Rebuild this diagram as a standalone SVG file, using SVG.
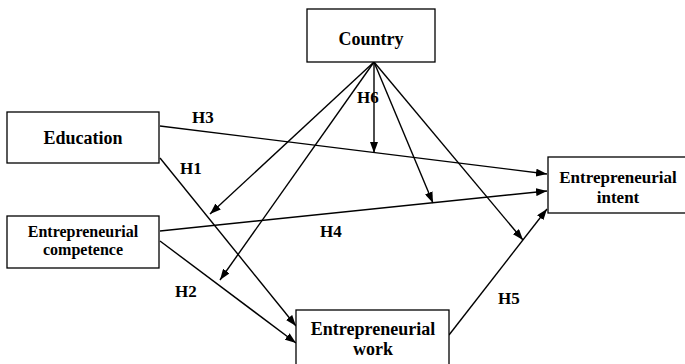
<svg xmlns="http://www.w3.org/2000/svg" width="685" height="364" viewBox="0 0 685 364">
<style>
.box{fill:#fff;stroke:#000;stroke-width:1.3}
text{font-family:'Liberation Serif','Times New Roman','DejaVu Serif',serif;font-weight:bold;font-size:17px;fill:#000}
.t{text-anchor:middle}
.l{font-size:18px}
.s{font-size:16px}
.c{stroke:#000;stroke-width:1.4;fill:none;marker-end:url(#ah)}
</style>
<defs>
<marker id="ah" markerUnits="userSpaceOnUse" markerWidth="11" markerHeight="8" refX="11" refY="4" orient="auto">
<path d="M0,0 L11,4 L0,8 z" fill="#000"/>
</marker>
</defs>
<rect width="685" height="364" fill="#fff"/>
<g id="connectors">
<line class="c" x1="160" y1="126" x2="547" y2="174"/>
<line class="c" x1="160" y1="231" x2="547" y2="191"/>
<line class="c" x1="449" y1="335" x2="547" y2="209"/>
<line class="c" x1="160" y1="158" x2="296" y2="326"/>
<line class="c" x1="160" y1="241" x2="296" y2="343"/>
<line class="c" x1="374" y1="62" x2="374" y2="153"/>
<line class="c" x1="374" y1="62" x2="433" y2="203"/>
<line class="c" x1="374" y1="62" x2="523" y2="240"/>
<line class="c" x1="374" y1="62" x2="210" y2="214"/>
<line class="c" x1="374" y1="62" x2="220" y2="280"/>
</g>
<g id="labels">
<text x="192" y="123">H3</text>
<text x="180" y="174">H1</text>
<text x="357" y="103">H6</text>
<text x="320" y="237">H4</text>
<text x="175" y="297">H2</text>
<text x="498" y="304">H5</text>
</g>
<g id="country">
<rect class="box" x="307" y="9" width="128" height="53"/>
<text class="t l" x="371" y="45">Country</text>
</g>
<g id="education">
<rect class="box" x="7" y="112" width="152" height="51"/>
<text class="t l" x="83" y="144">Education</text>
</g>
<g id="competence">
<rect class="box" x="7" y="216" width="152" height="52"/>
<text class="t s" x="83" y="237">Entrepreneurial</text>
<text class="t s" x="83" y="255">competence</text>
</g>
<g id="work">
<rect class="box" x="296" y="310" width="153" height="60"/>
<text class="t l" x="373" y="335">Entrepreneurial</text>
<text class="t l" x="373" y="355">work</text>
</g>
<g id="intent">
<rect class="box" x="548" y="157" width="145" height="56"/>
<text class="t" x="618" y="183">Entrepreneurial</text>
<text class="t" x="618" y="203">intent</text>
</g>
</svg>
